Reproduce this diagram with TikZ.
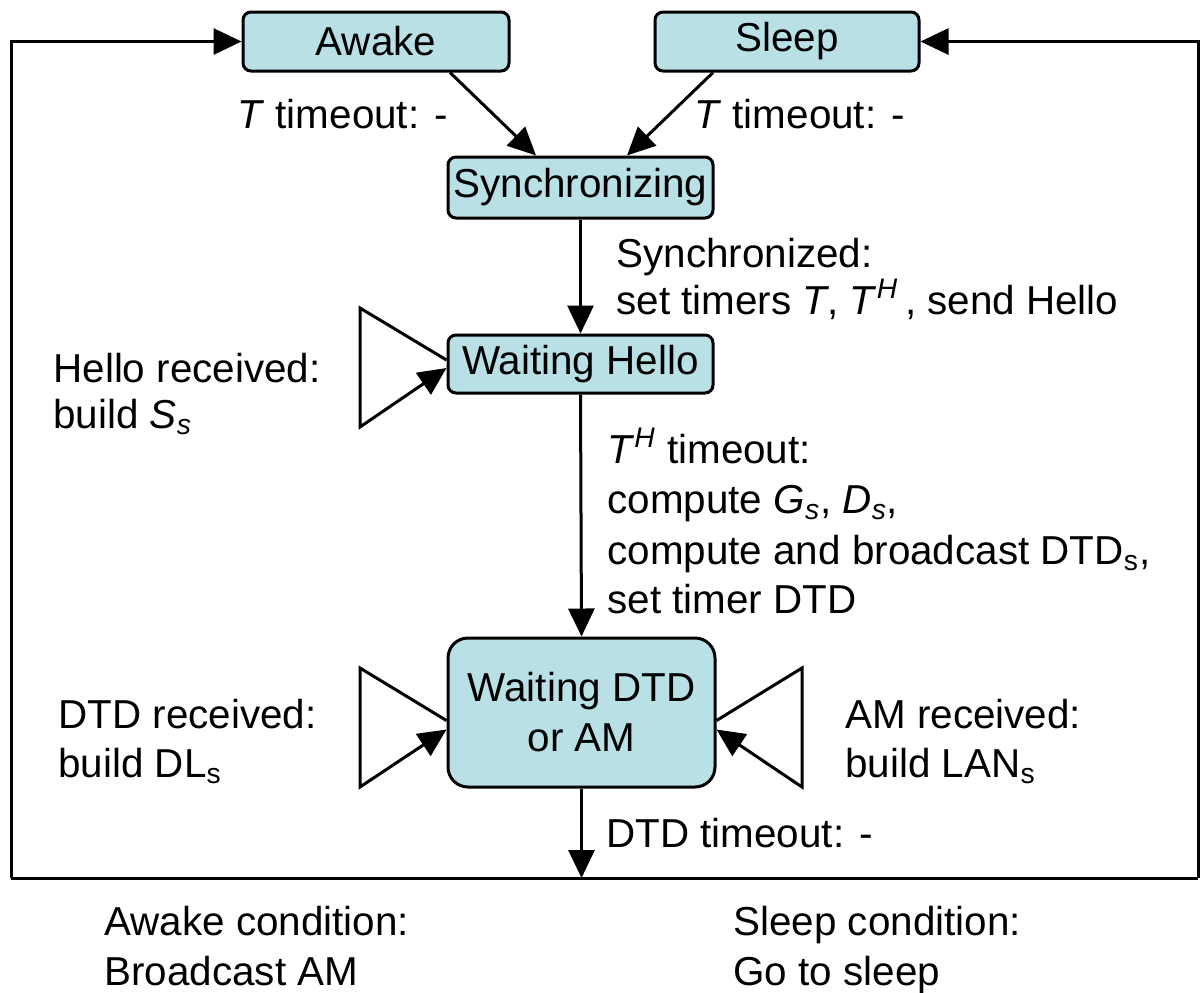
\documentclass[tikz,border=0pt]{standalone}
\usepackage{fontspec}
\setmainfont{Liberation Sans}
\usetikzlibrary{arrows.meta,calc}
\definecolor{boxfill}{RGB}{185,224,228}
\begin{document}
\begin{tikzpicture}[x=0.5pt,y=-0.5pt,
  state/.style={draw=black, fill=boxfill, line width=1.5pt, rounded corners=4pt, inner sep=0pt,
    font=\fontsize{20.2}{25}\selectfont, align=center},
  conn/.style={line width=1.5pt, -{Triangle[length=14pt,width=13pt]}},
  wire/.style={line width=1.5pt},
  lbl/.style={anchor=base west, inner sep=0pt, font=\fontsize{20.2}{24}\selectfont}]
\useasboundingbox (0,0) rectangle (1203,992);

% states
\node[state, minimum width=133pt, minimum height=29.5pt] (awake) at (376,41.5) {Awake};
\node[state, minimum width=132pt, minimum height=29.5pt] (sleep) at (787,41.5) {Sleep};
\node[state, minimum width=132.5pt, minimum height=30.5pt] (sync) at (580.5,187.5) {Synchronizing};
\node[state, minimum width=132.5pt, minimum height=29pt] (wh) at (580.5,364) {Waiting Hello};
\node[state, rounded corners=10pt, minimum width=133.5pt, minimum height=74.5pt] (wd) at (581.5,712.5) {Waiting DTD\\or AM};

% coordinates
\coordinate (bot) at (581.5,878);
\coordinate (botL) at (11,878);
\coordinate (botR) at (1198,878);
\coordinate (hT) at (360,308);
\coordinate (hB) at (360,427);
\coordinate (dT) at (360,668);
\coordinate (dB) at (360,787);
\coordinate (aT) at (802,668);
\coordinate (aB) at (802,787);

% transitions
\draw[conn] ($(awake.south)+(74,0)$) -- ($(sync.north)+(-44.5,0)$);
\draw[conn] ($(sleep.south)+(-74,0)$) -- ($(sync.north)+(46.5,0)$);
\draw[conn] (sync.south) -- (wh.north);
\draw[conn] (wh.south) -- (wd.north);
\draw[conn] (wd.south) -- (bot);

% self loops
\draw[conn, line join=miter] ($(wh.west)+(0,-4)$) -- (hT) -- (hB) -- ($(wh.west)+(0,4)$);
\draw[conn, line join=miter] ($(wd.west)+(0,8)$) -- (dT) -- (dB) -- ($(wd.west)+(0,17)$);
\draw[conn, line join=miter] ($(wd.east)+(0,8)$) -- (aT) -- (aB) -- ($(wd.east)+(0,17)$);

% return lines
\draw[wire] (botL) -- (botR);
\draw[conn] (botL) |- (awake.west);
\draw[conn] (botR) |- (sleep.east);

% labels
\node[lbl] (tl) at (237,128) {\textit{T} timeout: -};
\node[lbl] (tr) at (694,128) {\textit{T} timeout: -};
\node[lbl] (syn1) at (616,267) {Synchronized:};
\node[lbl] (syn2) at (616,314) {set timers \textit{T}, \textit{T}\textsuperscript{\textit{H}}\,, send Hello};
\node[lbl] (he1) at (53,382) {Hello received:};
\node[lbl] (he2) at (53,428) {build \textit{S}\textsubscript{\textit{s}}};
\node[lbl] (th1) at (607,463) {\textit{T}\textsuperscript{\textit{H}} timeout:};
\node[lbl] (th2) at (607,513) {compute \textit{G}\textsubscript{\textit{s}}, \textit{D}\textsubscript{\textit{s}},};
\node[lbl] (th3) at (607,564) {compute and broadcast DTD\textsubscript{s},};
\node[lbl] (th4) at (607,613) {set timer DTD};
\node[lbl] (dr1) at (58,728) {DTD received:};
\node[lbl] (dr2) at (58,777) {build DL\textsubscript{s}};
\node[lbl] (am1) at (845,728) {AM received:};
\node[lbl] (am2) at (845,777) {build LAN\textsubscript{s}};
\node[lbl] (dto) at (606,847) {DTD timeout: -};
\node[lbl] (ac1) at (104,935) {Awake condition:};
\node[lbl] (ac2) at (104,985) {Broadcast AM};
\node[lbl] (sc1) at (733,935) {Sleep condition:};
\node[lbl] (sc2) at (733,985) {Go to sleep};
\end{tikzpicture}
\end{document}
